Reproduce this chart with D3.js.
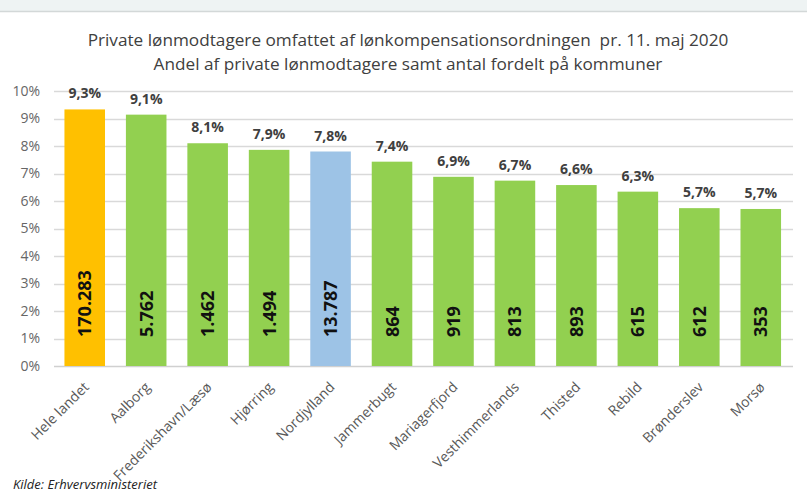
<!DOCTYPE html>
<html><head><meta charset="utf-8">
<script src="https://cdn.jsdelivr.net/npm/d3@7"></script>
<style>
html,body{margin:0;padding:0;background:#fff;}
svg{display:block;}
</style></head>
<body>
<script>
const categories = ["Hele landet","Aalborg","Frederikshavn/Læsø","Hjørring","Nordjylland","Jammerbugt","Mariagerfjord","Vesthimmerlands","Thisted","Rebild","Brønderslev","Morsø"];
const shares = [9.33, 9.14, 8.1, 7.86, 7.8, 7.43, 6.88, 6.74, 6.58, 6.34, 5.74, 5.71];
const counts = ["170.283","5.762","1.462","1.494","13.787","864","919","813","893","615","612","353"];
const barColors = ["#FFC000","#92D050","#92D050","#92D050","#9DC3E6","#92D050","#92D050","#92D050","#92D050","#92D050","#92D050","#92D050"];
const yTicks = [0,1,2,3,4,5,6,7,8,9,10];
const titleLines = ["Private lønmodtagere omfattet af lønkompensationsordningen  pr. 11. maj 2020","Andel af private lønmodtagere samt antal fordelt på kommuner"];
const source = "Kilde: Erhvervsministeriet";

const W = 807, H = 495;
const svg = d3.select("body").append("svg").attr("width", W).attr("height", H);

// top strip
svg.append("rect").attr("x",0).attr("y",0).attr("width",W).attr("height",11).attr("fill","#eef3f3");
svg.append("line").attr("x1",0).attr("x2",W).attr("y1",11.5).attr("y2",11.5).attr("stroke","#d3d8d8").attr("stroke-width",1.5);

const font = "'Open Sans', sans-serif";

const x = d3.scaleBand().domain(categories).range([54, 791.5]).paddingInner(0.34).paddingOuter(0.17);
const y = d3.scaleLinear().domain([0,10]).range([366, 91]);

// gridlines
svg.append("g").selectAll("line").data(yTicks).join("line")
  .attr("x1",54).attr("x2",793)
  .attr("y1",d=>Math.round(y(d))+0.5).attr("y2",d=>Math.round(y(d))+0.5)
  .attr("stroke",d=>d===0?"#d0d0d0":"#d9d9d9").attr("stroke-width",1.3);

// y axis labels
const yAxis = d3.axisLeft(y).tickValues(yTicks).tickFormat(d=>d+"%").tickSize(0).tickPadding(0);
const ya = svg.append("g").attr("transform","translate(40,0)").call(yAxis);
ya.select(".domain").remove();
ya.selectAll("text").attr("font-family",font).attr("font-size",14).attr("fill","#666");

// bars
svg.append("g").selectAll("rect").data(categories).join("rect")
  .attr("x",d=>x(d)).attr("width",x.bandwidth())
  .attr("y",(d,i)=>y(shares[i])).attr("height",(d,i)=>y(0)-y(shares[i]))
  .attr("fill",(d,i)=>barColors[i]);

// percentage labels
const fmt = d3.format(".1f");
svg.append("g").selectAll("text").data(categories).join("text")
  .attr("x",d=>x(d)+x.bandwidth()/2)
  .attr("y",(d,i)=>y(shares[i])-11)
  .attr("text-anchor","middle")
  .attr("font-family",font).attr("font-weight","bold").attr("font-size",14)
  .attr("fill","#404040")
  .text((d,i)=>fmt(shares[i]).replace(".",",")+"%");

// count labels (rotated)
svg.append("g").selectAll("text").data(categories).join("text")
  .attr("transform",d=>`translate(${x(d)+x.bandwidth()/2},337) rotate(-90)`)
  .attr("dy","0.36em")
  .attr("text-anchor","start")
  .attr("font-family",font).attr("font-weight","bold").attr("font-size",18)
  .attr("fill","#111")
  .text((d,i)=>counts[i]);

// x labels
svg.append("g").selectAll("text").data(categories).join("text")
  .attr("transform",d=>`translate(${x(d)+x.bandwidth()/2+5},388) rotate(-45)`)
  .attr("text-anchor","end")
  .attr("font-family",font).attr("font-size",14)
  .attr("fill","#595959")
  .text(d=>d);

// title
svg.append("g").selectAll("text").data(titleLines).join("text")
  .attr("x",408).attr("y",(d,i)=>46+i*24)
  .attr("text-anchor","middle")
  .attr("font-family",font).attr("font-size",17.2)
  .attr("fill","#404040")
  .attr("xml:space","preserve")
  .style("white-space","pre")
  .text(d=>d);

// source
svg.append("text").attr("x",13).attr("y",489)
  .attr("font-family",font).attr("font-style","italic").attr("font-size",13)
  .attr("fill","#222").text(source);
</script>
</body></html>
